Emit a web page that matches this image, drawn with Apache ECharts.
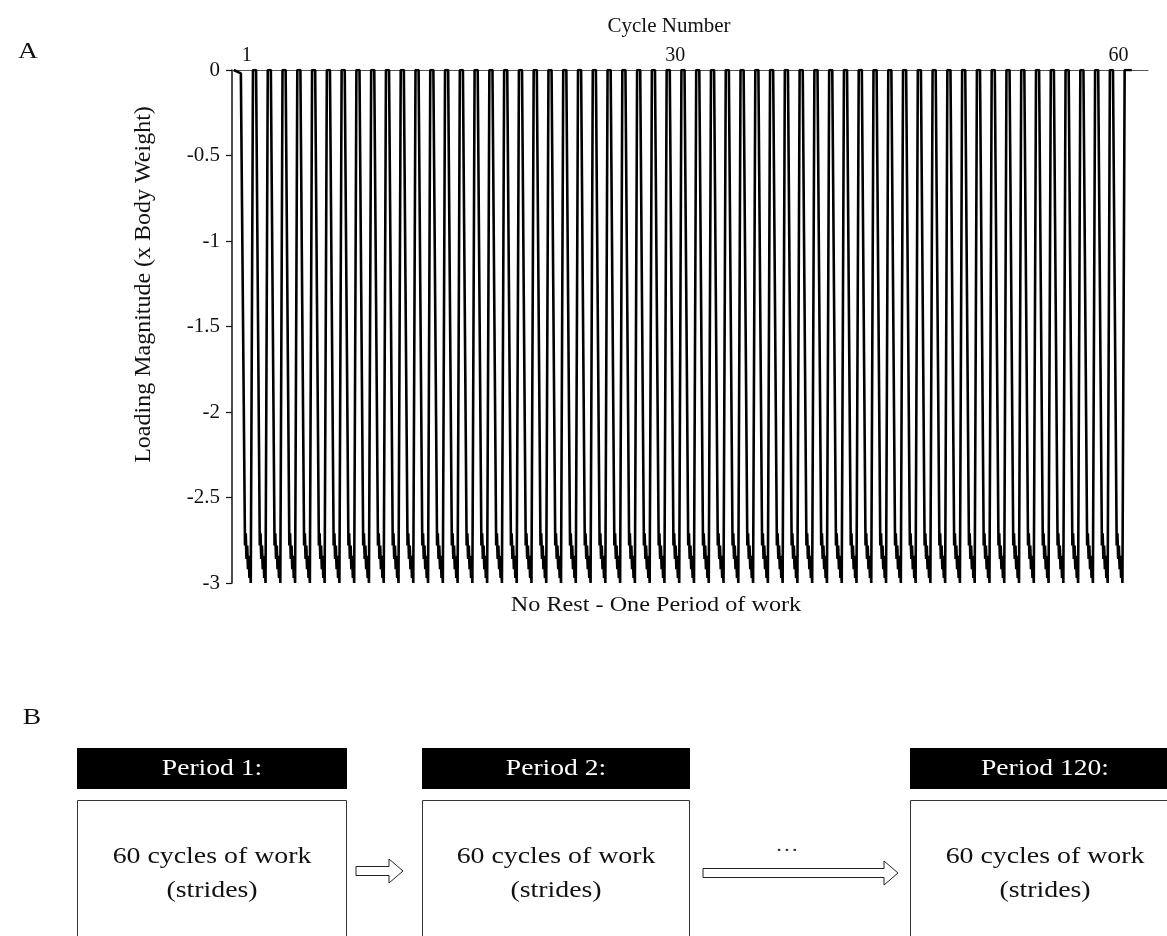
<!DOCTYPE html>
<html><head><meta charset="utf-8">
<script src="https://cdn.jsdelivr.net/npm/echarts@6/dist/echarts.min.js"></script>
<style>html,body{margin:0;padding:0;background:#fff}#c{width:1167px;height:936px}</style>
</head><body><div id="c"></div>
<script>
// ---- data ----
const cycleNumbers = [1,2,3,4,5,6,7,8,9,10,11,12,13,14,15,16,17,18,19,20,21,22,23,24,25,26,27,28,29,30,
  31,32,33,34,35,36,37,38,39,40,41,42,43,44,45,46,47,48,49,50,51,52,53,54,55,56,57,58,59,60];
const peakLoads = [-3,-3,-3,-3,-3,-3,-3,-3,-3,-3,-3,-3,-3,-3,-3,-3,-3,-3,-3,-3,-3,-3,-3,-3,-3,-3,-3,-3,-3,-3,
  -3,-3,-3,-3,-3,-3,-3,-3,-3,-3,-3,-3,-3,-3,-3,-3,-3,-3,-3,-3,-3,-3,-3,-3,-3,-3,-3,-3,-3,-3];
// one loading cycle: offset from cycle number, fraction of peak load
const cycleShapeOffsets = [-0.37, -0.12, -0.07, -0.02, 0.03, 0.08, 0.13, 0.18, 0.22, 0.27, 0.42];
const cycleShapeRatios  = [0, 0.927, 0.903, 0.953, 0.927, 0.973, 0.947, 0.99, 0.967, 1, 0];
const leadIn  = [[0.12, 0], [0.6, -0.02]];
const leadOut = [[60.9, 0]];
const xTickLabels = [1, 30, 60];
const yTicks = { min: -3, max: 0, step: 0.5 };
const periodLabels = ['Period 1:', 'Period 2:', 'Period 120:'];
const boxLine1 = '60 cycles of work';
const boxLine2 = '(strides)';

// ---- build series ----
const points = leadIn.slice();
cycleNumbers.forEach((n, i) => {
  cycleShapeOffsets.forEach((off, j) => {
    if (i === 0 && j === 0) return;
    points.push([n + off, cycleShapeRatios[j] * peakLoads[i]]);
  });
});
leadOut.forEach(p => points.push(p));

const serif = 'Liberation Serif, Times New Roman, serif';
const chart = echarts.init(document.getElementById('c'), null, { renderer: 'canvas' });

function txt(x, y, s, size, color, sx) {
  return { type: 'text', x: x, y: y, scaleX: sx || 1.2, originX: 0, originY: 0,
    style: { text: s, font: size + 'px ' + serif, fill: color || '#111', align: 'center', verticalAlign: 'middle' } };
}
function arrow(x1, x2, head, cy) {
  const s = 4.5, h = 12;
  return { type: 'polygon', shape: { points: [[x1, cy - s], [x2 - head, cy - s], [x2 - head, cy - h], [x2, cy], [x2 - head, cy + h], [x2 - head, cy + s], [x1, cy + s]] },
    style: { fill: '#fff', stroke: '#222', lineWidth: 1 } };
}
const boxes = [[77, 270, 212], [422, 268, 556], [910, 270, 1045]];
const graphics = [
  txt(28, 52, 'A', 24, '#111', 1.15),
  txt(32, 718, 'B', 24, '#111', 1.15),
  txt(656, 605, 'No Rest - One Period of work', 22, '#111', 1.1)
];
boxes.forEach((b, i) => {
  graphics.push({ type: 'rect', shape: { x: b[0], y: 748, width: b[1], height: 41 }, style: { fill: '#000' } });
  graphics.push(txt(b[2], 769, periodLabels[i], 24, '#fff', 1.15));
  graphics.push({ type: 'rect', shape: { x: b[0] + 0.5, y: 800.5, width: b[1] - 1, height: 160 }, style: { fill: 'none', stroke: '#333', lineWidth: 1 } });
  graphics.push(txt(b[2], 857, boxLine1, 24, '#111', 1.16));
  graphics.push(txt(b[2], 891, boxLine2, 24, '#111', 1.16));
});
graphics.push(arrow(356, 403, 14, 871));
graphics.push(arrow(703, 898, 14, 873));
graphics.push(txt(787, 846, '\u2026', 18, '#333', 1.3));

chart.setOption({
  animation: false,
  backgroundColor: '#fff',
  grid: { left: 232, right: 19, top: 70, bottom: 353, containLabel: false },
  xAxis: {
    type: 'value', position: 'top', min: 0, max: 62,
    name: 'Cycle Number', nameLocation: 'middle', nameGap: 33,
    nameTextStyle: { fontFamily: serif, fontSize: 21, color: '#111', padding: [0, 42, 0, 0] },
    axisLine: { show: true, onZero: false, lineStyle: { color: '#555', width: 1 } },
    axisTick: { show: false },
    splitLine: { show: false },
    axisLabel: { customValues: xTickLabels, fontFamily: serif, fontSize: 20, color: '#111', margin: 4 }
  },
  yAxis: {
    type: 'value', min: yTicks.min, max: yTicks.max, interval: yTicks.step,
    name: 'Loading Magnitude (x Body Weight)', nameLocation: 'middle', nameGap: 76, nameRotate: 90,
    nameTextStyle: { fontFamily: serif, fontSize: 24, color: '#111', padding: [0, 0, 0, 84] },
    axisLine: { show: true, lineStyle: { color: '#111', width: 1.5 } },
    axisTick: { show: true, inside: false, length: 6, lineStyle: { color: '#111', width: 1.2 } },
    splitLine: { show: false },
    axisLabel: { fontFamily: serif, fontSize: 21, color: '#111', margin: 12 }
  },
  series: [{
    type: 'line', data: points, showSymbol: false, symbol: 'none',
    lineStyle: { color: '#000', width: 2.6 }, z: 5
  }],
  graphic: graphics
});
</script></body></html>
